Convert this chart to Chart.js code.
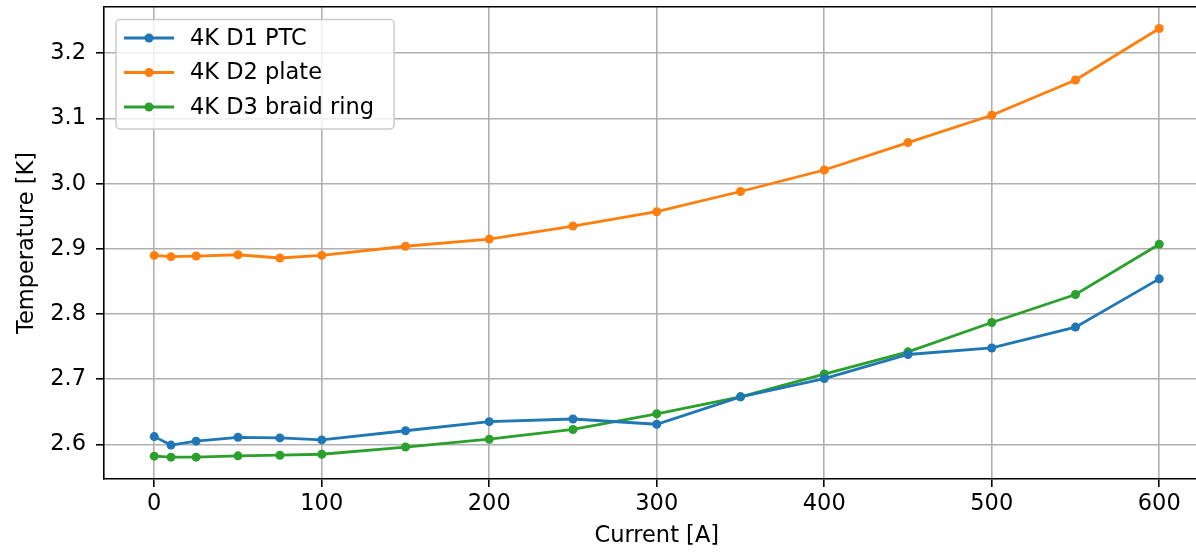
<!DOCTYPE html>
<html>
<head>
<meta charset="utf-8">
<script src="https://cdn.jsdelivr.net/npm/chart.js@4"></script>
<style>
html,body{margin:0;padding:0;overflow:hidden;background:#fff;}
#wrap{width:1214px;height:552px;}
</style>
</head>
<body>
<div id="wrap"><canvas id="c" width="1214" height="552"></canvas></div>
<script>
// ---- data ----
const currents = [0, 10, 25, 50, 75, 100, 150, 200, 250, 300, 350, 400, 450, 500, 550, 600];
const d1PTC   = [2.612, 2.599, 2.605, 2.611, 2.610, 2.607, 2.621, 2.635, 2.639, 2.631, 2.673, 2.701, 2.738, 2.748, 2.780, 2.854];
const d2Plate = [2.890, 2.888, 2.889, 2.891, 2.886, 2.890, 2.904, 2.915, 2.935, 2.957, 2.988, 3.021, 3.063, 3.105, 3.159, 3.238];
const d3Braid = [2.582, 2.5805, 2.5805, 2.5825, 2.5835, 2.585, 2.596, 2.608, 2.623, 2.647, 2.673, 2.708, 2.742, 2.787, 2.830, 2.907];
const seriesLabels = ['4K D1 PTC', '4K D2 plate', '4K D3 braid ring'];
const seriesColors = ['#1f77b4', '#ff7f0e', '#2ca02c'];
const xTickValues = [0, 100, 200, 300, 400, 500, 600];
const yTickValues = [2.6, 2.7, 2.8, 2.9, 3.0, 3.1, 3.2];
const xTitle = 'Current [A]';
const yTitle = 'Temperature [K]';

const FONT = "'DejaVu Sans', sans-serif";
const FS = 22.5;
Chart.defaults.font.family = FONT;
Chart.defaults.font.size = FS;
Chart.defaults.color = '#000';

const toPoints = arr => currents.map((x, i) => ({x: x, y: arr[i]}));
const seriesData = [d1PTC, d2Plate, d3Braid];

const datasets = seriesData.map((arr, i) => ({
  label: seriesLabels[i],
  data: toPoints(arr),
  borderColor: seriesColors[i],
  backgroundColor: seriesColors[i],
  pointBackgroundColor: seriesColors[i],
  pointBorderWidth: 0,
  pointRadius: 4.5,
  borderWidth: 2.8,
  tension: 0,
  fill: false
}));

const legendBox = {
  id: 'legendBox',
  afterDraw(chart) {
    const {ctx, chartArea} = chart;
    const ds = chart.data.datasets;
    ctx.save();
    ctx.font = FS + 'px ' + FONT;
    const maxW = Math.max(...ds.map(d => ctx.measureText(d.label).width));
    const x0 = chartArea.left + 12, y0 = chartArea.top + 12.5;
    const rowH = 34.5;
    const w = 8 + 50 + 16 + maxW + 20;
    const h = ds.length * rowH + 6;
    const r = 4;
    ctx.beginPath();
    ctx.moveTo(x0 + r, y0);
    ctx.lineTo(x0 + w - r, y0);
    ctx.arcTo(x0 + w, y0, x0 + w, y0 + r, r);
    ctx.lineTo(x0 + w, y0 + h - r);
    ctx.arcTo(x0 + w, y0 + h, x0 + w - r, y0 + h, r);
    ctx.lineTo(x0 + r, y0 + h);
    ctx.arcTo(x0, y0 + h, x0, y0 + h - r, r);
    ctx.lineTo(x0, y0 + r);
    ctx.arcTo(x0, y0, x0 + r, y0, r);
    ctx.closePath();
    ctx.fillStyle = 'rgba(255,255,255,0.8)';
    ctx.fill();
    ctx.strokeStyle = '#cccccc';
    ctx.lineWidth = 1.5;
    ctx.stroke();
    ds.forEach((d, i) => {
      const cy = y0 + 18.5 + i * rowH;
      ctx.strokeStyle = d.borderColor;
      ctx.lineWidth = d.borderWidth;
      ctx.beginPath();
      ctx.moveTo(x0 + 8, cy);
      ctx.lineTo(x0 + 58, cy);
      ctx.stroke();
      ctx.fillStyle = d.borderColor;
      ctx.beginPath();
      ctx.arc(x0 + 33, cy, d.pointRadius, 0, Math.PI * 2);
      ctx.fill();
      ctx.fillStyle = '#000';
      ctx.textAlign = 'left';
      ctx.textBaseline = 'middle';
      ctx.fillText(d.label, x0 + 74, cy + 1);
    });
    ctx.restore();
  }
};

const gridOpts = {color: '#b0b0b0', lineWidth: 1.6, tickColor: '#000', tickWidth: 1.6, tickLength: 8};
const borderOpts = {color: '#000', width: 1.6};
const noPad = s => { s.paddingTop = 0; s.paddingBottom = 0; s.paddingLeft = 0; s.paddingRight = 0; };

new Chart(document.getElementById('c'), {
  type: 'line',
  data: {datasets: datasets},
  plugins: [legendBox],
  options: {
    responsive: false,
    animation: false,
    devicePixelRatio: 1,
    events: [],
    layout: {padding: {top: 7, left: 0, right: 0, bottom: 0}},
    plugins: {legend: {display: false}, tooltip: {enabled: false}},
    scales: {
      x: {
        type: 'linear', position: 'bottom', min: -30, max: 630,
        afterBuildTicks: s => { s.ticks = xTickValues.map(v => ({value: v})); },
        afterFit: s => { s.height = 73; noPad(s); },
        grid: gridOpts,
        border: borderOpts,
        ticks: {padding: 4, maxRotation: 0, color: '#000', callback: v => String(v)},
        title: {display: true, text: xTitle, color: '#000', padding: {top: 0, bottom: 2}}
      },
      x2: {
        type: 'linear', position: 'top', min: -30, max: 630,
        afterFit: s => { s.height = 0; noPad(s); },
        grid: {display: false, drawTicks: false},
        ticks: {display: false},
        border: borderOpts
      },
      y: {
        type: 'linear', position: 'left', min: 2.547, max: 3.271,
        afterBuildTicks: s => { s.ticks = yTickValues.map(v => ({value: v})); },
        afterFit: s => { s.width = 104; noPad(s); },
        grid: gridOpts,
        border: borderOpts,
        ticks: {padding: 10, color: '#000', callback: v => Number(v).toFixed(1)},
        title: {display: true, text: yTitle, color: '#000', padding: {top: 14, bottom: 0}}
      }
    }
  }
});
</script>
</body>
</html>
